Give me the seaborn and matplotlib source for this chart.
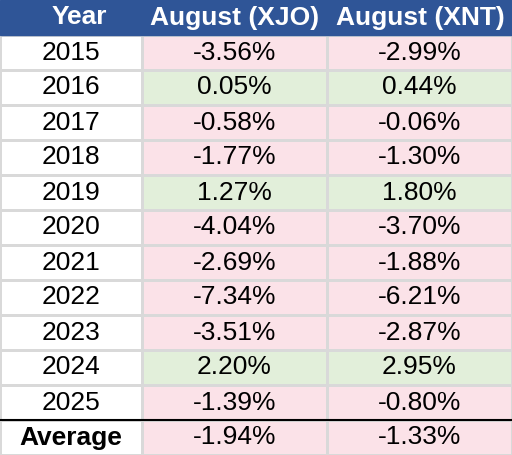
import matplotlib
matplotlib.use("Agg")
import matplotlib.pyplot as plt
import seaborn as sns
import numpy as np
from matplotlib.colors import ListedColormap
from matplotlib.patches import Rectangle

years = ["2015","2016","2017","2018","2019","2020","2021","2022","2023","2024","2025","Average"]
xjo = [-3.56, 0.05, -0.58, -1.77, 1.27, -4.04, -2.69, -7.34, -3.51, 2.20, -1.39, -1.94]
xnt = [-2.99, 0.44, -0.06, -1.30, 1.80, -3.70, -1.88, -6.21, -2.87, 2.95, -0.80, -1.33]
headers = ["Year", "August (XJO)", "August (XNT)"]

plt.rcParams['font.family'] = ['Liberation Sans', 'DejaVu Sans']
W, H = 512, 455
fig = plt.figure(figsize=(W/100, H/100), dpi=100)
hdr = 35
x0, x1 = 142, 328
fs = 19
pink, green, blue = "#FBE2E8", "#E2EFDA", "#2F5597"
grid = "#D9D9D9"

vals = np.array([xjo, xnt]).T
cat = (vals >= 0).astype(int)
annot = np.array([[f"{v:.2f}%" for v in row] for row in vals])

ax = fig.add_axes([x0/W, 0, (W-x0)/W, (H-hdr)/H])
sns.heatmap(cat, ax=ax, cmap=ListedColormap([pink, green]), vmin=0, vmax=1, cbar=False,
            annot=annot, fmt="", linewidths=0.75, linecolor=grid,
            annot_kws={"fontsize": fs, "color": "black"})
ax.set_xticks([]); ax.set_yticks([])

ay = fig.add_axes([0, 0, x0/W, (H-hdr)/H])
sns.heatmap(np.zeros((len(years), 1)), ax=ay, cmap=ListedColormap(["white"]), cbar=False,
            annot=np.array(years).reshape(-1, 1), fmt="", linewidths=0.75, linecolor=grid,
            annot_kws={"fontsize": fs, "color": "black"})
ay.texts[-1].set_fontweight("bold")
ay.set_xticks([]); ay.set_yticks([])

fig.patches.append(Rectangle((0, 1-hdr/H), 1, hdr/H, transform=fig.transFigure, color=blue))
for cx, h in zip([x0/2 + 8, (x0+x1)/2, (x1+W)/2], headers):
    fig.text(cx/W, 1-hdr/2/H, h, ha="center", va="center", color="white",
             fontsize=fs, fontweight="bold")
ly = 1 - (hdr + 11*35)/H
fig.add_artist(plt.Line2D([0, 1], [ly, ly], transform=fig.transFigure, color="black", lw=1.5))

fig.savefig("out.png", dpi=100)
